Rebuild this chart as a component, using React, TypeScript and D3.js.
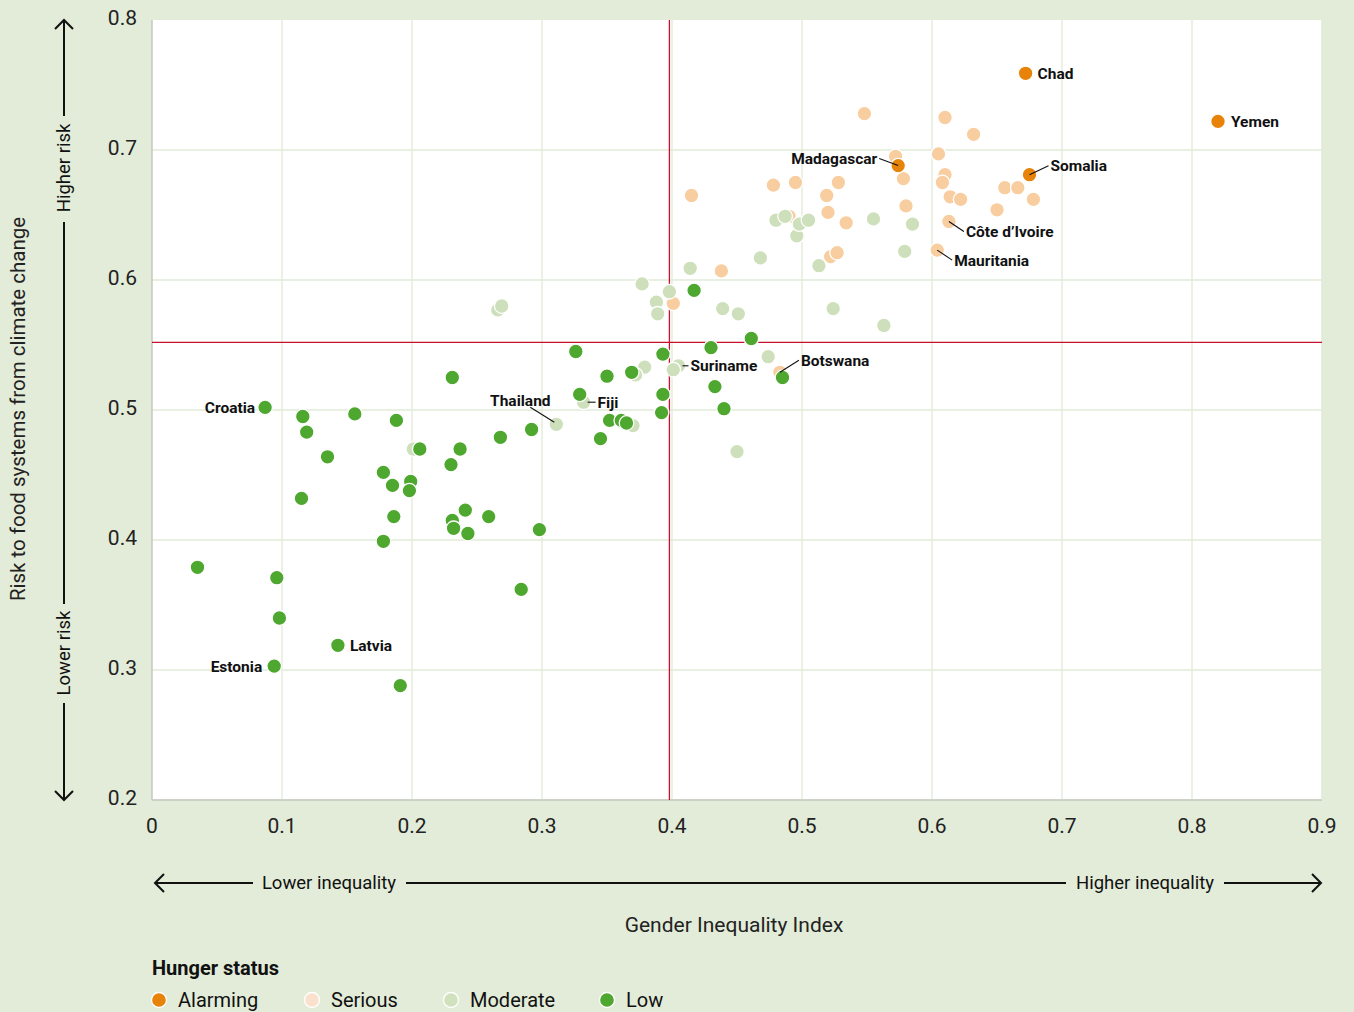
import React from "react";
import * as d3 from "d3";

type Pt = [number, number];

const alarming: Pt[] = [
  [0.672, 0.759], [0.82, 0.722], [0.675, 0.681], [0.574, 0.688],
];
const serious: Pt[] = [
  [0.548, 0.728], [0.61, 0.725], [0.632, 0.712], [0.605, 0.697], [0.572, 0.695],
  [0.578, 0.678], [0.61, 0.681], [0.608, 0.675], [0.614, 0.664], [0.622, 0.662],
  [0.58, 0.657], [0.656, 0.671], [0.666, 0.671], [0.678, 0.662], [0.65, 0.654],
  [0.613, 0.645], [0.604, 0.623], [0.478, 0.673], [0.495, 0.675], [0.528, 0.675],
  [0.519, 0.665], [0.415, 0.665], [0.52, 0.652], [0.534, 0.644], [0.522, 0.618],
  [0.527, 0.621], [0.438, 0.607], [0.401, 0.582], [0.483, 0.529], [0.49, 0.649],
];
const moderate: Pt[] = [
  [0.48, 0.646], [0.487, 0.649], [0.496, 0.634], [0.498, 0.643], [0.505, 0.646],
  [0.513, 0.611], [0.524, 0.578], [0.555, 0.647], [0.563, 0.565], [0.579, 0.622],
  [0.585, 0.643], [0.468, 0.617], [0.414, 0.609], [0.377, 0.597], [0.398, 0.591],
  [0.388, 0.583], [0.389, 0.574], [0.439, 0.578], [0.451, 0.574], [0.474, 0.541],
  [0.405, 0.534], [0.401, 0.531], [0.379, 0.533], [0.372, 0.527], [0.37, 0.488],
  [0.311, 0.489], [0.332, 0.506], [0.45, 0.468], [0.201, 0.47], [0.266, 0.577],
  [0.269, 0.58],
];
const low: Pt[] = [
  [0.326, 0.545], [0.393, 0.543], [0.43, 0.548], [0.461, 0.555], [0.417, 0.592],
  [0.485, 0.525], [0.433, 0.518], [0.44, 0.501], [0.393, 0.512], [0.392, 0.498],
  [0.369, 0.529], [0.35, 0.526], [0.329, 0.512], [0.352, 0.492], [0.361, 0.492],
  [0.365, 0.49], [0.345, 0.478], [0.292, 0.485], [0.268, 0.479], [0.237, 0.47],
  [0.23, 0.458], [0.206, 0.47], [0.188, 0.492], [0.156, 0.497], [0.116, 0.495],
  [0.119, 0.483], [0.087, 0.502], [0.135, 0.464], [0.178, 0.452], [0.185, 0.442],
  [0.199, 0.445], [0.198, 0.438], [0.115, 0.432], [0.186, 0.418], [0.231, 0.415],
  [0.232, 0.409], [0.241, 0.423], [0.243, 0.405], [0.259, 0.418], [0.298, 0.408],
  [0.284, 0.362], [0.178, 0.399], [0.035, 0.379], [0.096, 0.371], [0.098, 0.34],
  [0.143, 0.319], [0.094, 0.303], [0.191, 0.288], [0.231, 0.525],
];

const xTicks = [0, 0.1, 0.2, 0.3, 0.4, 0.5, 0.6, 0.7, 0.8, 0.9];
const yTicks = [0.2, 0.3, 0.4, 0.5, 0.6, 0.7, 0.8];
const refX = 0.398;
const refY = 0.552;

type Lab = { name: string; p: Pt; anchor: "start" | "end" | "middle"; tx: number; ty: number; leader: boolean };
const labels: Lab[] = [
  { name: "Chad", p: [0.672, 0.759], anchor: "start", tx: 12, ty: 0, leader: false },
  { name: "Yemen", p: [0.82, 0.722], anchor: "start", tx: 13, ty: 0, leader: false },
  { name: "Somalia", p: [0.675, 0.681], anchor: "start", tx: 21, ty: -9, leader: true },
  { name: "Madagascar", p: [0.574, 0.688], anchor: "end", tx: -21, ty: -7, leader: true },
  { name: "Côte d’Ivoire", p: [0.613, 0.645], anchor: "start", tx: 17, ty: 10, leader: true },
  { name: "Mauritania", p: [0.604, 0.623], anchor: "start", tx: 17, ty: 10, leader: true },
  { name: "Botswana", p: [0.483, 0.529], anchor: "start", tx: 21, ty: -12, leader: true },
  { name: "Suriname", p: [0.405, 0.534], anchor: "start", tx: 12, ty: 0, leader: true },
  { name: "Fiji", p: [0.332, 0.506], anchor: "start", tx: 14, ty: 0, leader: true },
  { name: "Thailand", p: [0.311, 0.489], anchor: "middle", tx: -36, ty: -24, leader: true },
  { name: "Croatia", p: [0.087, 0.502], anchor: "end", tx: -10, ty: 0, leader: false },
  { name: "Latvia", p: [0.143, 0.319], anchor: "start", tx: 12, ty: 0, leader: false },
  { name: "Estonia", p: [0.094, 0.303], anchor: "end", tx: -12, ty: 0, leader: false },
];

const legendItems = [
  { key: "Alarming", color: "#e8830a" },
  { key: "Serious", color: "#fbe1cb" },
  { key: "Moderate", color: "#cfe2bd" },
  { key: "Low", color: "#4ea72e" },
];

const COLORS = { alarming: "#e8830a", serious: "#f8cea0", moderate: "#cde0bb", low: "#4ea72e" };

const W = 1354, H = 1012;
const FONT = "Roboto, 'Liberation Sans', sans-serif";

export default function App() {
  const x = d3.scaleLinear().domain([0, 0.9]).range([152, 1322]);
  const y = d3.scaleLinear().domain([0.2, 0.8]).range([800, 20]);
  const bg = "#e2ecd8";
  const grid = "#e1ebd7";

  const dots = (data: Pt[], color: string, key: string) =>
    data.map((d, i) => (
      <circle key={key + i} cx={x(d[0])} cy={y(d[1])} r={7.3} fill={color} stroke="#fff" strokeWidth={1.3} />
    ));

  const arrowHead = (px: number, py: number, dir: "up" | "down" | "left" | "right") => {
    const s = 9;
    let pts: [number, number][] = [];
    if (dir === "up") pts = [[px - s, py + s], [px, py], [px + s, py + s]];
    if (dir === "down") pts = [[px - s, py - s], [px, py], [px + s, py - s]];
    if (dir === "left") pts = [[px + s, py - s], [px, py], [px + s, py + s]];
    if (dir === "right") pts = [[px - s, py - s], [px, py], [px - s, py + s]];
    return <polyline points={pts.map((p) => p.join(",")).join(" ")} fill="none" stroke="#111" strokeWidth={2} />;
  };

  return (
    <svg width={W} height={H} style={{ position: "absolute", left: 0, top: 0, background: bg }} fontFamily={FONT}>
      <rect x={0} y={0} width={W} height={H} fill={bg} />
      <rect x={152} y={20} width={1170} height={780} fill="#fff" />
      {xTicks.slice(1).map((t) => (
        <line key={"gx" + t} x1={x(t)} x2={x(t)} y1={20} y2={800} stroke={grid} strokeWidth={1.3} />
      ))}
      {yTicks.slice(0, -1).map((t) => (
        <line key={"gy" + t} x1={152} x2={1322} y1={y(t)} y2={y(t)} stroke={grid} strokeWidth={1.3} />
      ))}
      <line x1={152} x2={152} y1={20} y2={800} stroke="#c4c8c0" strokeWidth={1.5} />
      <line x1={152} x2={1322} y1={800} y2={800} stroke="#c4c8c0" strokeWidth={1.5} />
      <line x1={1322} x2={1322} y1={20} y2={800} stroke="#e1ebd7" strokeWidth={1} />

      <line x1={x(refX)} x2={x(refX)} y1={20} y2={800} stroke="#c8102e" strokeWidth={1.3} />
      <line x1={152} x2={1322} y1={y(refY)} y2={y(refY)} stroke="#c8102e" strokeWidth={1.3} />

      {dots(serious, COLORS.serious, "s")}
      {dots(moderate, COLORS.moderate, "m")}
      {dots(low, COLORS.low, "l")}
      {dots(alarming, COLORS.alarming, "a")}

      {labels.map((l) => {
        const px = x(l.p[0]), py = y(l.p[1]);
        const tx = px + l.tx, ty = py + l.ty;
        let line = null;
        if (l.leader) {
          let x1 = px, y1 = py, x2 = tx - (l.anchor === "end" ? -2 : 2), y2 = ty;
          if (l.anchor === "middle") { x2 = tx + 10; y2 = ty + 7; x1 = px - 2; y1 = py - 2; }
          if (l.name === "Suriname" || l.name === "Fiji") { x1 = px + 4; }
          line = <line x1={x1} y1={y1} x2={x2} y2={y2} stroke="#111" strokeWidth={1.1} />;
        }
        return (
          <g key={l.name}>
            {line}
            <text x={tx} y={ty} dy="0.35em" textAnchor={l.anchor} fontSize={15.5} fontWeight={700} fill="#111">
              {l.name}
            </text>
          </g>
        );
      })}

      {yTicks.map((t) => (
        <text key={"yt" + t} x={137} y={y(t)} dy="0.25em" textAnchor="end" fontSize={21} fill="#222">
          {d3.format(".1f")(t)}
        </text>
      ))}
      {xTicks.map((t) => (
        <text key={"xt" + t} x={x(t)} y={833} textAnchor="middle" fontSize={21} fill="#222">
          {t === 0 ? "0" : d3.format(".1f")(t)}
        </text>
      ))}

      <line x1={64} x2={64} y1={21} y2={116} stroke="#111" strokeWidth={2} />
      {arrowHead(64, 20, "up")}
      <text transform="translate(70,168) rotate(-90)" textAnchor="middle" fontSize={18.5} fill="#111">Higher risk</text>
      <line x1={64} x2={64} y1={222} y2={604} stroke="#111" strokeWidth={2} />
      <text transform="translate(70,653) rotate(-90)" textAnchor="middle" fontSize={18.5} fill="#111">Lower risk</text>
      <line x1={64} x2={64} y1={703} y2={799} stroke="#111" strokeWidth={2} />
      {arrowHead(64, 800, "down")}
      <text transform="translate(25,409) rotate(-90)" textAnchor="middle" fontSize={20.5} fill="#222">
        Risk to food systems from climate change
      </text>

      <line x1={156} x2={253} y1={883} y2={883} stroke="#111" strokeWidth={2} />
      {arrowHead(155, 883, "left")}
      <text x={329} y={889} textAnchor="middle" fontSize={18.5} fill="#111">Lower inequality</text>
      <line x1={406} x2={1066} y1={883} y2={883} stroke="#111" strokeWidth={2} />
      <text x={1145} y={889} textAnchor="middle" fontSize={18.5} fill="#111">Higher inequality</text>
      <line x1={1224} x2={1320} y1={883} y2={883} stroke="#111" strokeWidth={2} />
      {arrowHead(1321, 883, "right")}
      <text x={734} y={932} textAnchor="middle" fontSize={21} fill="#222">Gender Inequality Index</text>

      <text x={152} y={975} fontSize={20} fontWeight={700} fill="#111">Hunger status</text>
      {legendItems.map((it, i) => {
        const lx = [159, 312, 451, 607][i];
        return (
          <g key={it.key}>
            <circle cx={lx} cy={1000} r={7.5} fill={it.color} stroke="#fff" strokeWidth={1.3} />
            <text x={lx + 19} y={1007} fontSize={20} fill="#111">{it.key}</text>
          </g>
        );
      })}
    </svg>
  );
}
